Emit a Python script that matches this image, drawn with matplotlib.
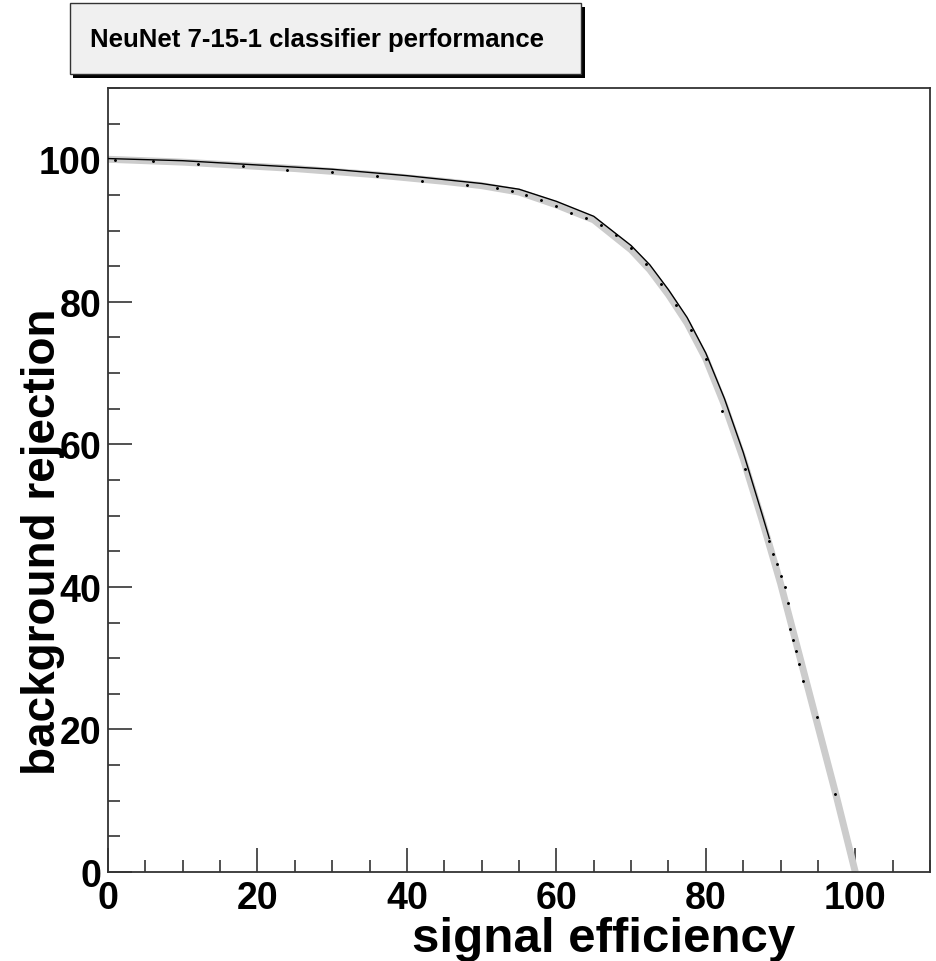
import matplotlib
matplotlib.use("Agg")
import matplotlib.pyplot as plt
from matplotlib.patches import Rectangle
from matplotlib.ticker import MultipleLocator

plt.rcParams['font.family'] = ['Liberation Sans', 'DejaVu Sans']

# ROC curve (gray reference curve)
sig_eff = [0, 5, 10, 15, 20, 25, 30, 35, 40, 45, 50, 55, 60, 65, 70, 72.5, 75, 77.5, 80, 82.5, 85, 87.5, 90, 92.5, 95, 97.5, 100]
bkg_rej = [100, 99.8, 99.6, 99.3, 99.0, 98.7, 98.3, 97.9, 97.4, 96.9, 96.3, 95.4, 93.6, 91.5, 87.3, 84.5, 81.0, 77.0, 72.0, 65.5, 58.0, 49.5, 40.5, 30.5, 20.5, 10.5, 0]

# black solid curve (upper part)
line_eff = [0, 10, 20, 30, 40, 50, 55, 60, 65, 70, 72.5, 75, 77.5, 80, 82.5, 85, 87.5, 88.5]
line_rej = [100.1, 99.8, 99.2, 98.6, 97.7, 96.6, 95.8, 94.1, 92.0, 87.9, 85.2, 81.7, 77.8, 72.8, 66.4, 58.9, 50.3, 46.8]

# black dotted points
dot_eff = [1, 6, 12, 18, 24, 30, 36, 42, 48, 52, 54, 56, 58, 60, 62, 64, 66, 68, 70, 72, 74, 76, 78, 80, 82.2, 85.3, 88.4, 89.0, 89.5, 90.0, 90.6, 91.0, 91.3, 91.7, 92.1, 92.5, 93.0, 94.9, 97.3]
dot_rej = [99.9, 99.7, 99.3, 99.0, 98.5, 98.2, 97.6, 97.0, 96.4, 95.9, 95.5, 95.0, 94.3, 93.4, 92.5, 91.7, 90.8, 89.4, 87.6, 85.3, 82.5, 79.5, 76.0, 72.0, 64.7, 56.5, 46.4, 44.6, 43.2, 41.5, 40.0, 37.8, 34.1, 32.6, 31.0, 29.2, 26.8, 21.7, 10.9]

x_ticks = [0, 20, 40, 60, 80, 100]
y_ticks = [0, 20, 40, 60, 80, 100]

W, H = 936, 962
AX_L, AX_R, AX_T, AX_B = 108, 930, 89, 873
fig = plt.figure(figsize=(W / 100, H / 100), dpi=100)
ax = fig.add_axes([AX_L / W, 1 - AX_B / H, (AX_R - AX_L) / W, (AX_B - AX_T) / H])

ax.plot(sig_eff, bkg_rej, color='#cccccc', lw=5.0, solid_capstyle='butt', zorder=2)
ax.plot(line_eff, line_rej, color='black', lw=1.0, zorder=3)
ax.plot(dot_eff, dot_rej, ls='none', marker='.', ms=2.2, color='black', zorder=4)

ax.set_xlim(0, 110)
ax.set_ylim(0, 110)
ax.xaxis.set_minor_locator(MultipleLocator(5))
ax.yaxis.set_minor_locator(MultipleLocator(5))
ax.set_xticks(x_ticks)
ax.set_yticks(y_ticks)
ax.set_xticklabels([str(v) for v in x_ticks])
ax.set_yticklabels([str(v) for v in y_ticks])
ax.tick_params(which='major', direction='in', length=17, width=1.2, color='#333333',
               labelsize=27, pad=6, top=False, right=False)
ax.tick_params(axis='y', which='major', pad=5)
ax.tick_params(which='minor', direction='in', length=8.5, width=1.2, color='#333333',
               top=False, right=False)
for lab in ax.get_xticklabels() + ax.get_yticklabels():
    lab.set_fontweight('bold')
for s in ax.spines.values():
    s.set_color('#333333')
    s.set_linewidth(1.3)

aw, ah = AX_R - AX_L, AX_B - AX_T
ax.set_xlabel('signal efficiency', fontsize=35.5, fontweight='bold', loc='right')
ax.set_ylabel('background rejection', fontsize=33, fontweight='bold', loc='bottom')
ax.xaxis.set_label_coords((795 - AX_L) / aw, -(917 - AX_B) / ah)
ax.yaxis.set_label_coords(-(AX_L - 21) / aw, (AX_B - 775) / ah)
ax.yaxis.label.set_va('top')

# title box with shadow
def fr(x0, y0, x1, y1):
    return (x0 / W, 1 - y1 / H), (x1 - x0) / W, (y1 - y0) / H

xy, w, h = fr(73, 8, 585, 79)
fig.patches.append(Rectangle(xy, w, h, transform=fig.transFigure, facecolor='black', edgecolor='black', lw=0, zorder=5))
xy, w, h = fr(70, 4, 581, 75)
fig.patches.append(Rectangle(xy, w, h, transform=fig.transFigure, facecolor='#f0f0f0', edgecolor='#333333', lw=1.0, zorder=6))
fig.text((88 + 545) / 2 / W, 1 - 40 / H, 'NeuNet 7-15-1 classifier performance',
         ha='center', va='center', fontsize=18.5, fontweight='bold', zorder=7)

fig.savefig('out.png', dpi=100)
